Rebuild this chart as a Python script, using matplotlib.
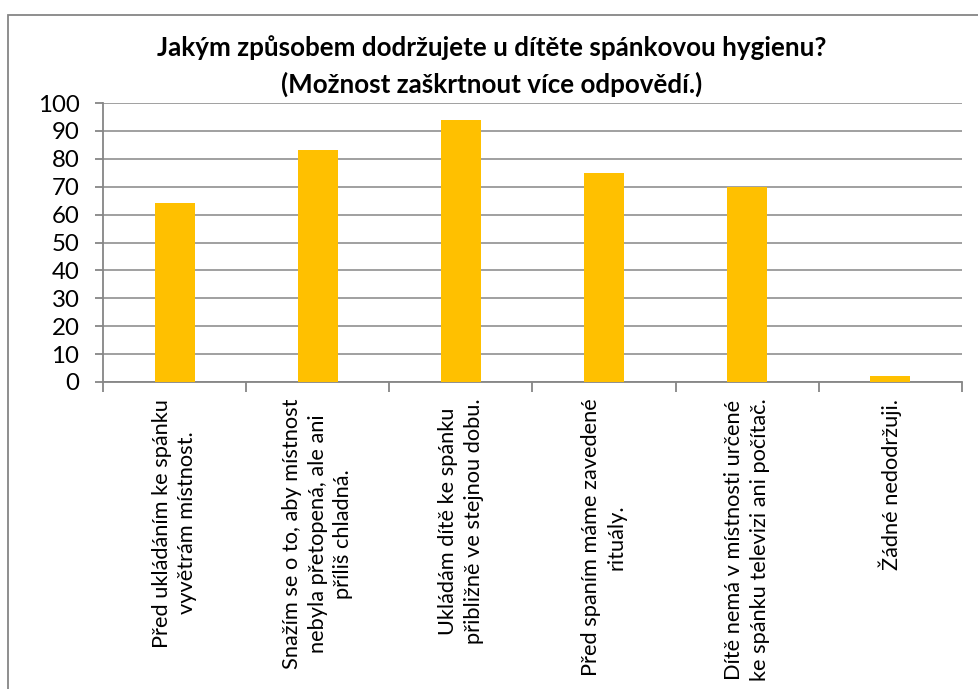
import matplotlib
matplotlib.use("Agg")
import matplotlib.pyplot as plt
from matplotlib.patches import Rectangle
from matplotlib.ticker import FixedLocator

plt.rcParams['font.family'] = ['Lato', 'DejaVu Sans']

categories = [
    "Před ukládáním ke spánku\nvyvětrám místnost.",
    "Snažím se o to, aby místnost\nnebyla přetopená, ale ani\npříliš chladná.",
    "Ukládám dítě ke spánku\npřibližně ve stejnou dobu.",
    "Před spaním máme zavedené\nrituály.",
    "Dítě nemá v místnosti určené\nke spánku televizi ani počítač.",
    "Žádné nedodržuji.",
]
values = [64, 83, 94, 75, 70, 2]
yticks = list(range(0, 101, 10))
title = "Jakým způsobem dodržujete u dítěte spánkovou hygienu?\n(Možnost zaškrtnout více odpovědí.)"

W, H = 979, 689
fig = plt.figure(figsize=(W / 100, H / 100), dpi=100)
fig.patch.set_facecolor("white")

grey = "#868686"

# chart frame (open to the right and bottom)
fig.add_artist(Rectangle((8 / W, -0.1), 1.2, 1.1 - 15 / H,
                         transform=fig.transFigure, fill=False,
                         edgecolor=grey, linewidth=1.3))

ax = fig.add_axes([103 / W, 1 - 382 / H, (962 - 103) / W, (382 - 103) / H])
x = list(range(len(values)))
ax.bar(x, values, width=0.28, color="#FFC000", zorder=3)

ax.set_xlim(-0.5, len(values) - 0.5)
ax.set_ylim(0, 100)
ax.set_yticks(yticks)
ax.yaxis.grid(True, color=grey, linewidth=1.1, zorder=0)
ax.set_axisbelow(True)

for s in ("top", "right"):
    ax.spines[s].set_visible(False)
for s in ("left", "bottom"):
    ax.spines[s].set_color(grey)
    ax.spines[s].set_linewidth(1.3)

ax.tick_params(axis="y", direction="out", length=6, width=1.3, color=grey,
               labelsize=17.3, labelcolor="black", pad=11)

ax.set_xticks(x)
ax.set_xticklabels(categories, rotation=90, multialignment="center",
                   fontsize=15.7, color="black", linespacing=1.35)
ax.tick_params(axis="x", which="major", length=0, pad=12)
ax.xaxis.set_minor_locator(FixedLocator([i - 0.5 for i in range(len(values) + 1)]))
ax.tick_params(axis="x", which="minor", direction="out", length=7, width=1.3, color=grey)

fig.text(492 / W, 1 - 66 / H, title, ha="center", va="center",
         fontsize=18.7, fontweight="bold", linespacing=1.55)

fig.savefig("out.png", dpi=100, facecolor="white")
